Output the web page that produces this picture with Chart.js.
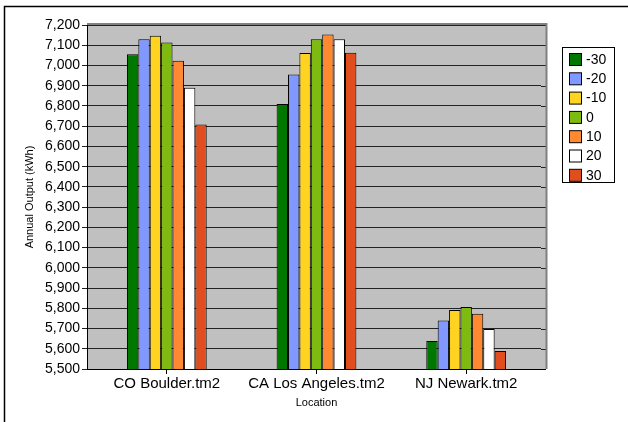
<!DOCTYPE html>
<html><head><meta charset="utf-8">
<script src="https://cdn.jsdelivr.net/npm/chart.js@4.4.1/dist/chart.umd.min.js"></script>
<style>html,body{margin:0;padding:0;background:#fff}#wrap{width:628px;height:422px;position:relative}</style>
</head><body><div id="wrap"><canvas id="c" width="628" height="422"></canvas></div>
<script>
const categories = ["CO Boulder.tm2", "CA Los Angeles.tm2", "NJ Newark.tm2"];
const seriesNames = ["-30", "-20", "-10", "0", "10", "20", "30"];
const seriesColors = ["#007800", "#8098FF", "#FFD320", "#7EBA10", "#FF8830", "#FFFFFF", "#E04E20"];
const valsM30 = [7055, 6810, 5638];
const valsM20 = [7130, 6955, 5740];
const valsM10 = [7147, 7062, 5792];
const vals0   = [7113, 7130, 5806];
const vals10  = [7023, 7153, 5773];
const vals20  = [6890, 7130, 5698];
const vals30  = [6708, 7063, 5589];
const seriesValues = [valsM30, valsM20, valsM10, vals0, vals10, vals20, vals30];
const yMin = 5500, yMax = 7200, yStep = 100;

const FONT = "'Liberation Sans', Arial, sans-serif";
const EXT = 5; // plot frame extends beyond category range

const deco = {
  id: 'deco',
  beforeDatasetsDraw(chart) {},
  beforeDraw(chart) {
    const {ctx, chartArea: a} = chart;
    ctx.save();
    ctx.fillStyle = '#C0C0C0';
    ctx.fillRect(a.left - EXT, a.top, a.right - a.left + 2 * EXT, a.bottom - a.top);
    ctx.restore();
  },
  afterDraw(chart) {
    const {ctx, chartArea: a, scales} = chart;
    const ys = scales.y;
    ctx.save();
    // gridline extensions into frame margins
    ctx.strokeStyle = '#222'; ctx.lineWidth = 1;
    ys.ticks.forEach(t => {
      const y = Math.round(ys.getPixelForValue(t.value)) + 0.5;
      ctx.beginPath(); ctx.moveTo(a.right, y); ctx.lineTo(a.right + EXT, y); ctx.stroke();
    });
    // left axis line and bottom axis line
    ctx.strokeStyle = '#000';
    ctx.beginPath(); ctx.moveTo(a.left - EXT + 0.5, a.top); ctx.lineTo(a.left - EXT + 0.5, a.bottom + 0.5);
    ctx.lineTo(a.right + EXT, a.bottom + 0.5); ctx.stroke();
    // outer frame lines (top and left)
    ctx.strokeStyle = '#000'; ctx.lineWidth = 1.5;
    ctx.beginPath(); ctx.moveTo(4.5, 422); ctx.lineTo(4.5, 6.5); ctx.lineTo(628, 6.5); ctx.stroke();
    // plot border top/right gray
    ctx.strokeStyle = '#808080'; ctx.lineWidth = 2;
    ctx.beginPath(); ctx.moveTo(a.left - EXT, a.top - 1); ctx.lineTo(a.right + EXT + 0.5, a.top - 1); ctx.lineTo(a.right + EXT + 0.5, a.bottom); ctx.stroke();
    // legend
    const lx = 562.5, ly = 47.5, lw = 52, lh = 135;
    ctx.fillStyle = '#fff'; ctx.fillRect(lx, ly, lw, lh);
    ctx.strokeStyle = '#000'; ctx.lineWidth = 1; ctx.strokeRect(lx, ly, lw, lh);
    ctx.font = '14px ' + FONT; ctx.textBaseline = 'middle'; ctx.textAlign = 'left';
    seriesNames.forEach((n, i) => {
      const y = 53.5 + i * 19.3;
      ctx.fillStyle = seriesColors[i];
      ctx.fillRect(569.5, y, 12, 12);
      ctx.strokeStyle = '#000'; ctx.strokeRect(569.5, y, 12, 12);
      ctx.fillStyle = '#000';
      ctx.fillText(n, 586, y + 6.5);
    });
    ctx.restore();
  }
};

new Chart(document.getElementById('c'), {
  type: 'bar',
  data: {
    labels: categories,
    datasets: seriesNames.map((n, i) => ({
      label: n, data: seriesValues[i], backgroundColor: seriesColors[i],
      borderColor: '#000', borderWidth: 1, borderSkipped: 'bottom',
      barPercentage: 1.0, categoryPercentage: 0.533
    }))
  },
  options: {
    responsive: false, animation: false, devicePixelRatio: 1,
    layout: { padding: { top: 25, right: 87, left: 0, bottom: 0 } },
    plugins: { legend: { display: false }, tooltip: { enabled: false } },
    scales: {
      x: {
        offset: true,
        grid: { display: true, drawOnChartArea: false, drawTicks: true, tickLength: 5, offset: false, color: '#000' },
        border: { display: false },
        ticks: { color: '#000', font: { family: FONT, size: 15 }, padding: 1, maxRotation: 0 },
        title: { display: true, text: 'Location', color: '#000', font: { family: FONT, size: 11 }, padding: { top: 2, bottom: 12 } },
        afterFit(s) { s.height = 53; }
      },
      y: {
        min: yMin, max: yMax,
        ticks: { stepSize: yStep, color: '#000', font: { family: FONT, size: 14 }, padding: 2,
          callback: v => v.toLocaleString('en-US') },
        grid: { color: '#222', lineWidth: 1, tickLength: 10, drawTicks: true },
        border: { display: false },
        title: { display: true, text: 'Annual Output (kWh)', color: '#000', font: { family: FONT, size: 11 }, padding: { top: 23, bottom: 0 } },
        afterFit(s) { s.width = 92; }
      }
    }
  },
  plugins: [deco]
});
</script></body></html>
